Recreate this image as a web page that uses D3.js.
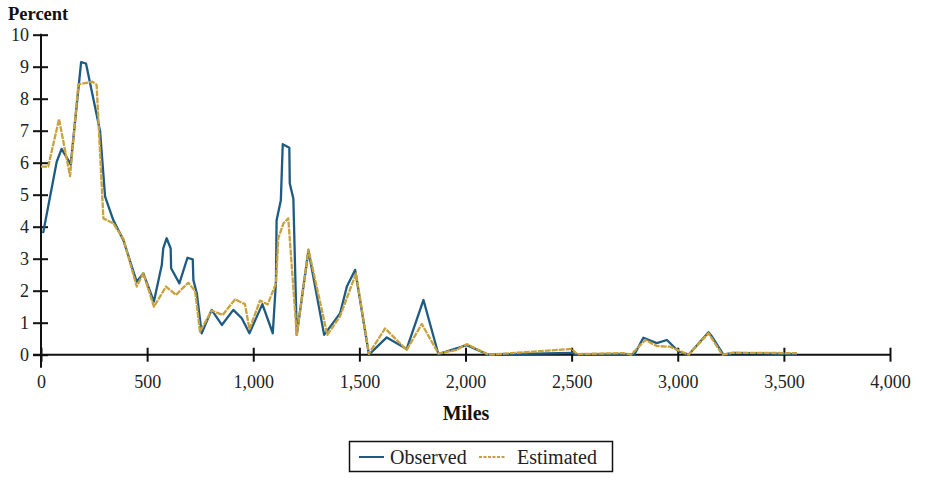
<!DOCTYPE html>
<html>
<head>
<meta charset="utf-8">
<script src="https://cdn.jsdelivr.net/npm/d3@7"></script>
<style>
  body { margin: 0; background: #fff; }
  svg { display: block; font-family: "Liberation Serif", "DejaVu Serif", serif; }
</style>
</head>
<body>
<div id="chart"></div>
<script>
// observed shares by distance
const obsMiles = [10, 74, 97, 140, 189, 212, 278, 302, 341, 388, 451, 482, 532, 569, 576, 592, 611, 613, 652, 690, 715, 718, 734, 757, 804, 852, 906, 946, 982, 1043, 1092, 1107, 1110, 1130, 1139, 1170, 1172, 1189, 1205, 1260, 1334, 1409, 1441, 1480, 1545, 1629, 1723, 1802, 1872, 2006, 2108, 2500, 2525, 2770, 2795, 2838, 2901, 2949, 3004, 3051, 3145, 3160, 3215, 3262, 3562];
const obsPercent = [3.8, 6.03, 6.43, 5.95, 9.14, 9.1, 7.0, 4.94, 4.2, 3.58, 2.28, 2.54, 1.66, 2.8, 3.32, 3.64, 3.32, 2.7, 2.23, 3.03, 2.98, 2.33, 1.92, 0.67, 1.4, 0.93, 1.4, 1.14, 0.67, 1.58, 0.67, 2.28, 4.2, 4.83, 6.58, 6.47, 5.36, 4.87, 0.62, 3.25, 0.62, 1.29, 2.13, 2.65, 0, 0.54, 0.18, 1.71, 0.02, 0.3, 0, 0.06, 0, 0.02, 0, 0.53, 0.36, 0.46, 0.1, 0, 0.7, 0.58, 0, 0.06, 0.02];

// model estimates
const estMiles = [0, 34, 85, 137, 176, 242, 262, 294, 341, 388, 451, 482, 532, 589, 636, 694, 726, 749, 804, 856, 914, 961, 982, 1032, 1068, 1107, 1118, 1142, 1165, 1205, 1260, 1349, 1409, 1484, 1545, 1621, 1723, 1794, 1872, 1959, 2006, 2108, 2501, 2525, 2744, 2780, 2847, 2901, 2964, 3051, 3145, 3210, 3255, 3562];
const estPercent = [5.88, 5.88, 7.36, 5.58, 8.45, 8.53, 8.43, 4.26, 4.1, 3.62, 2.13, 2.55, 1.5, 2.13, 1.87, 2.25, 1.99, 0.72, 1.38, 1.24, 1.73, 1.58, 0.8, 1.69, 1.57, 2.23, 3.64, 4.1, 4.26, 0.62, 3.29, 0.62, 1.2, 2.54, 0.03, 0.82, 0.15, 0.96, 0.04, 0.15, 0.33, 0, 0.18, 0.02, 0.05, 0, 0.46, 0.27, 0.25, 0, 0.67, 0, 0.06, 0.05];

const xTicks = [0, 500, 1000, 1500, 2000, 2500, 3000, 3500, 4000];
const yTicks = [0, 1, 2, 3, 4, 5, 6, 7, 8, 9, 10];

const width = 931, height = 481;
const blue = '#1d5b82', gold = '#c9a23f';
const tickFont = '"Liberation Serif", serif';

const svg = d3.select('#chart').append('svg')
  .attr('width', width)
  .attr('height', height);

const x = d3.scaleLinear().domain([0, 4000]).range([41, 890]);
const y = d3.scaleLinear().domain([0, 10]).range([354.7, 34.7]);

// y axis, ticks cross the line
const yAxis = svg.append('g')
  .attr('transform', `translate(${x(0)},0)`)
  .call(d3.axisLeft(y).tickValues(yTicks).tickSize(8).tickSizeOuter(0).tickPadding(4));
yAxis.attr('font-size', 18).attr('font-family', tickFont);
yAxis.select('.domain').attr('d', `M0,${y(10) - 1}V${y(0) + 13}`);
yAxis.selectAll('.tick line').attr('x1', -8).attr('x2', 7);

const xAxis = svg.append('g')
  .attr('transform', `translate(0,${y(0)})`)
  .call(d3.axisBottom(x).tickValues(xTicks).tickSize(7).tickSizeOuter(0).tickPadding(14)
    .tickFormat(d => d === 0 ? '0' : d3.format(',')(d)));
xAxis.attr('font-size', 18).attr('font-family', tickFont);
xAxis.select('.domain').attr('d', `M${x(0) - 8},0H${x(4000) + 1}`);
xAxis.selectAll('.tick line').attr('y1', -7).attr('y2', 7);

svg.selectAll('.domain, .tick line').attr('stroke', '#111').attr('stroke-width', 2);
svg.selectAll('.tick text').attr('fill', '#222').attr('font-size', 18);

const line = d3.line().x(d => x(d[0])).y(d => y(d[1]));

const obs = d3.zip(obsMiles, obsPercent);
const est = d3.zip(estMiles, estPercent);

svg.append('path').datum(obs)
  .attr('d', line)
  .attr('fill', 'none')
  .attr('stroke', blue)
  .attr('stroke-width', 2.3)
  .attr('stroke-linejoin', 'round');

svg.append('path').datum(est)
  .attr('d', line)
  .attr('fill', 'none')
  .attr('stroke', gold)
  .attr('stroke-width', 2.3)
  .attr('stroke-dasharray', '6,1')
  .attr('stroke-linejoin', 'round');

// axis titles
svg.append('text')
  .attr('x', 8).attr('y', 20)
  .attr('font-weight', 'bold').attr('font-size', 18.5).attr('fill', '#111')
  .text('Percent');

svg.append('text')
  .attr('x', 466).attr('y', 420).attr('text-anchor', 'middle')
  .attr('font-weight', 'bold').attr('font-size', 20).attr('fill', '#111')
  .text('Miles');

// legend
const legend = svg.append('g');
legend.append('rect')
  .attr('x', 349.5).attr('y', 441.5).attr('width', 263).attr('height', 30)
  .attr('fill', '#fff').attr('stroke', '#111').attr('stroke-width', 1.5);

const items = [
  { label: 'Observed', color: blue, dash: null, x0: 359, x1: 384, tx: 390 },
  { label: 'Estimated', color: gold, dash: '3,1.5', x0: 479, x1: 506, tx: 517 }
];
items.forEach(it => {
  legend.append('line')
    .attr('x1', it.x0).attr('x2', it.x1).attr('y1', 457).attr('y2', 457)
    .attr('stroke', it.color).attr('stroke-width', 2)
    .attr('stroke-dasharray', it.dash);
  legend.append('text')
    .attr('x', it.tx).attr('y', 463.5)
    .attr('font-size', 20).attr('fill', '#222')
    .text(it.label);
});
</script>
</body>
</html>
